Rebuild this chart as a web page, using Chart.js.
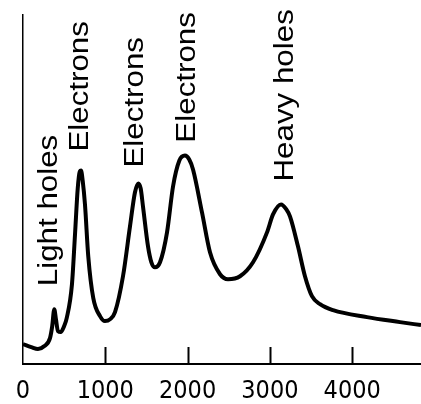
<!DOCTYPE html>
<html>
<head>
<meta charset="utf-8">
<script src="https://cdn.jsdelivr.net/npm/chart.js@4/dist/chart.umd.min.js"></script>
<style>
  html, body { margin: 0; padding: 0; background: #fff; }
  #wrap { width: 421px; height: 404px; }
</style>
</head>
<body>
<div id="wrap"><canvas id="spectrum"></canvas></div>
<script>
// spectrum (x in axis units, height in arbitrary units)
var energy = [0, 100, 182, 260, 328, 355, 380, 400, 425, 458, 500, 531, 595, 632, 665, 690, 705, 725, 753, 793,
    854, 936, 996, 1060, 1118, 1215, 1300, 1360, 1401, 1430, 1458, 1519, 1560, 1604, 1665, 1750, 1823, 1900,
    1968, 2020, 2066, 2175, 2272, 2394, 2491, 2637, 2795, 2965, 3038, 3135, 3200, 3244, 3341, 3426, 3511,
    3609, 3767, 4180, 4581, 4836];
var intensity = [20, 17, 15, 18, 26, 38, 55, 45, 33, 32, 38, 46, 80, 130, 176, 193, 194, 184, 160, 108,
    66, 48, 43, 45, 52, 88, 138, 172, 181, 176, 158, 118, 102, 97, 102, 132, 178, 204,
    209, 205, 195, 152, 112, 90, 85, 88, 102, 132, 150, 160, 155, 148, 118, 88, 68,
    60, 54, 47, 42, 39];
var xTicks = [0, 1000, 2000, 3000, 4000];

// peak labels: text, x of baseline, y where the text starts
var peakNames = ['Light holes', 'Electrons', 'Electrons', 'Electrons', 'Heavy holes'];
var peakX = [409, 790, 1458, 2090, 3281];
var peakY = [78, 213, 197, 222, 183];

var points = energy.map((e, i) => ({ x: e, y: intensity[i] }));

var innerTicks = {
    id: 'innerTicks',
    afterDatasetsDraw(chart) {
        var ctx = chart.ctx;
        var xs = chart.scales.x;
        var ys = chart.scales.y;
        var bottom = chart.chartArea.bottom;
        ctx.save();
        ctx.strokeStyle = '#000';
        ctx.lineWidth = 2;
        xTicks.forEach(v => {
            if (v === 0) return;
            var px = Math.round(xs.getPixelForValue(v)) + 0.5;
            ctx.beginPath();
            ctx.moveTo(px, bottom);
            ctx.lineTo(px, bottom - 17);
            ctx.stroke();
        });

        ctx.fillStyle = '#000';
        ctx.font = '27px "Liberation Sans", Arial, sans-serif';
        ctx.textAlign = 'left';
        ctx.textBaseline = 'alphabetic';
        peakNames.forEach((name, i) => {
            ctx.save();
            ctx.translate(xs.getPixelForValue(peakX[i]), ys.getPixelForValue(peakY[i]));
            ctx.rotate(-Math.PI / 2);
            ctx.scale(1.16, 1);
            ctx.fillText(name, 0, 0);
            ctx.restore();
        });
        ctx.restore();
    }
};

new Chart('spectrum', {
    type: 'line',
    data: {
        datasets: [{
            data: points,
            borderColor: '#000',
            borderWidth: 4,
            pointRadius: 0,
            fill: false,
            cubicInterpolationMode: 'monotone'
        }]
    },
    options: {
        responsive: true,
        maintainAspectRatio: false,
        animation: false,
        layout: { padding: { left: 23, top: 15, right: 0, bottom: 0 } },
        plugins: { legend: { display: false }, tooltip: { enabled: false } },
        scales: {
            x: {
                type: 'linear',
                min: 0,
                max: 4836,
                afterBuildTicks: scale => { scale.ticks = xTicks.map(v => ({ value: v })); },
                afterFit: scale => { scale.height = 40; },
                grid: { drawOnChartArea: false, drawTicks: false },
                border: { display: true, color: '#000', width: 2 },
                ticks: {
                    color: '#000',
                    padding: 12,
                    maxRotation: 0,
                    autoSkip: false,
                    font: { family: '"DejaVu Sans Condensed", "DejaVu Sans", sans-serif', size: 25 },
                    callback: v => String(v)
                }
            },
            y: {
                min: 0,
                max: 350,
                afterFit: scale => { scale.width = 0; },
                grid: { drawOnChartArea: false, drawTicks: false },
                border: { display: true, color: '#000', width: 1.5 },
                ticks: { display: false }
            }
        }
    },
    plugins: [innerTicks]
});
</script>
</body>
</html>
